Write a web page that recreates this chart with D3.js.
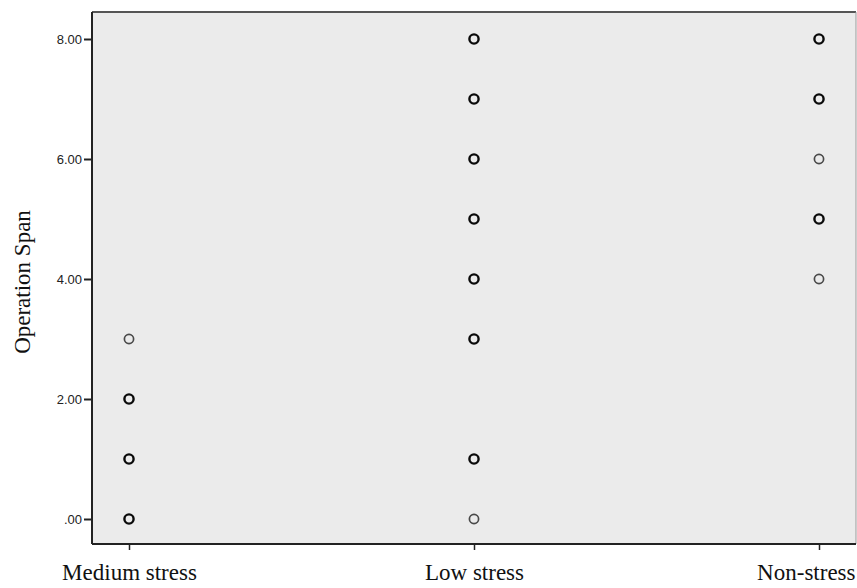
<!DOCTYPE html>
<html><head><meta charset="utf-8">
<script src="https://cdn.jsdelivr.net/npm/d3@7"></script>
<style>body{margin:0;background:#fff}svg{display:block}</style>
</head><body>
<script>
const categories = ["Medium stress", "Low stress", "Non-stress"];
const mediumValues = [0, 1, 2, 3];
const mediumCounts = [3, 3, 3, 1];
const lowValues = [0, 1, 3, 4, 5, 6, 7, 8];
const lowCounts = [1, 2, 2, 3, 2, 2, 2, 2];
const nonValues = [4, 5, 6, 7, 8];
const nonCounts = [1, 2, 1, 3, 3];
const yTicks = [0, 2, 4, 6, 8];
const yTickLabels = [".00", "2.00", "4.00", "6.00", "8.00"];
const yLabel = "Operation Span";

const W = 857, H = 588;
const plot = {left: 92, top: 12, right: 856, bottom: 544};
const svg = d3.select("body").append("svg").attr("width", W).attr("height", H);

const x = d3.scalePoint().domain(categories).range([129, 819]);
const y = d3.scaleLinear().domain([0, 8]).range([519, 39]);

svg.append("rect").attr("x", plot.left).attr("y", plot.top)
  .attr("width", plot.right - plot.left).attr("height", plot.bottom - plot.top)
  .attr("fill", "#ebebeb");
svg.append("line").attr("x1", plot.left).attr("x2", plot.right).attr("y1", plot.top).attr("y2", plot.top)
  .attr("stroke", "#555").attr("stroke-width", 2);
svg.append("line").attr("x1", plot.right).attr("x2", plot.right).attr("y1", plot.top).attr("y2", plot.bottom)
  .attr("stroke", "#999").attr("stroke-width", 1);

const yAxis = svg.append("g").attr("transform", `translate(${plot.left},0)`)
  .call(d3.axisLeft(y).tickValues(yTicks).tickFormat((d, i) => yTickLabels[i]).tickSize(8).tickSizeOuter(0));
yAxis.select(".domain").attr("d", `M0,${plot.top}V${plot.bottom}`).attr("stroke", "#222").attr("stroke-width", 2);
yAxis.selectAll(".tick line").attr("stroke", "#222").attr("stroke-width", 2);
yAxis.selectAll(".tick text").attr("font-family", "Liberation Sans, Arial, sans-serif").attr("font-size", 13).attr("fill", "#222").attr("x", -10);

const xAxis = svg.append("g").attr("transform", `translate(0,${plot.bottom})`)
  .call(d3.axisBottom(x).tickSize(6).tickSizeOuter(0));
xAxis.select(".domain").attr("d", `M${plot.left},0H${plot.right}`).attr("stroke", "#222").attr("stroke-width", 2);
xAxis.selectAll(".tick line").attr("stroke", "#222").attr("stroke-width", 1.5);
xAxis.selectAll(".tick text").attr("font-family", "Liberation Serif, Times New Roman, serif").attr("font-size", 23).attr("fill", "#111").attr("y", 20)
  .filter(d => d === "Non-stress").attr("text-anchor", "end").attr("x", 855 - x("Non-stress"));

svg.append("text").attr("transform", `translate(30,${(plot.top + plot.bottom) / 2 + 4}) rotate(-90)`)
  .attr("text-anchor", "middle").attr("font-family", "Liberation Serif, Times New Roman, serif")
  .attr("font-size", 23).attr("fill", "#111").text(yLabel);

const groups = [
  {cat: categories[0], vals: mediumValues, counts: mediumCounts},
  {cat: categories[1], vals: lowValues, counts: lowCounts},
  {cat: categories[2], vals: nonValues, counts: nonCounts}
];
const pts = [];
groups.forEach(g => g.vals.forEach((v, i) => pts.push({cat: g.cat, v, n: g.counts[i]})));

svg.append("g").selectAll("circle").data(pts).join("circle")
  .attr("cx", d => x(d.cat)).attr("cy", d => y(d.v)).attr("r", 4.6)
  .attr("fill", "none")
  .attr("stroke", d => d.n > 1 ? "#0a0a0a" : "#4a4a4a")
  .attr("stroke-width", d => d.n > 1 ? 2.4 : 1.7);
</script>
</body></html>
